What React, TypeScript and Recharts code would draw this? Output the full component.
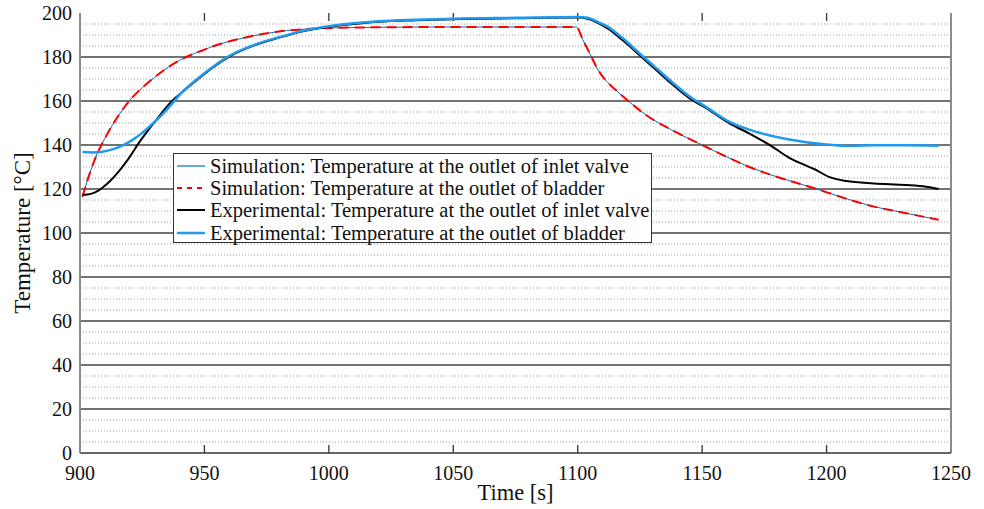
import React from 'react';
import { LineChart, Line, XAxis, YAxis, ReferenceLine, Legend } from 'recharts';

// ---- data ----
const simTime = [901, 903, 905, 907, 910, 913, 916, 920, 925, 930, 935, 940, 948, 956, 967, 980, 994, 1010, 1040, 1070, 1099.5, 1102, 1105, 1108, 1111, 1115, 1120, 1128, 1137, 1150, 1169, 1196, 1219, 1232, 1245];
const simInletTemp = [116.5, 124, 130.5, 136.3, 143, 149, 154.3, 160.3, 166, 170.8, 175, 178.5, 182.5, 185.8, 189, 191.6, 192.9, 193.4, 193.6, 193.6, 193.6, 188, 181.3, 174.5, 169.7, 165.3, 160.3, 153.2, 147.3, 140, 130, 120, 112, 109, 106];
const simBladderTemp = [116.5, 124, 130.5, 136.3, 143, 149, 154.3, 160.3, 166, 170.8, 175, 178.5, 182.5, 185.8, 189, 191.6, 192.9, 193.4, 193.6, 193.6, 193.6, 188, 181.3, 174.5, 169.7, 165.3, 160.3, 153.2, 147.3, 140, 130, 120, 112, 109, 106];

const expInletTime = [901, 903, 905, 907, 909, 912, 915, 919, 924, 930, 937, 941, 948, 954, 960, 970, 980, 990, 1000, 1010, 1020, 1035, 1050, 1075, 1100, 1104, 1108, 1112, 1118, 1125, 1132, 1138, 1145, 1152, 1161, 1169, 1178, 1185, 1190, 1195, 1201, 1208, 1219, 1232, 1240, 1245];
const expInletTemp = [117.4, 117.5, 118, 119, 120.6, 123.5, 127.2, 133, 141.5, 150.5, 160, 164, 170.5, 175.7, 180.2, 185.3, 188.8, 191.8, 193.8, 195, 196, 196.7, 197.2, 197.6, 197.9, 197.4, 195.5, 193, 187.7, 180.7, 173.6, 167.6, 161.2, 156.5, 149.8, 145.2, 139.4, 134.2, 131.5, 129.1, 125.5, 123.6, 122.5, 121.8, 121, 120];

const expBladderTime = [901, 905, 909, 913, 917, 921, 925, 929, 933, 937, 941, 948, 954, 960, 970, 980, 990, 1000, 1010, 1020, 1035, 1050, 1075, 1100, 1104, 1108, 1112, 1118, 1125, 1132, 1138, 1145, 1152, 1161, 1172, 1185, 1199, 1208, 1219, 1232, 1245];
const expBladderTemp = [136.8, 136.6, 136.9, 138, 139.7, 142.2, 145.5, 149.5, 153.8, 158.8, 164, 170.8, 176, 180.5, 185.5, 189, 192, 194, 195.3, 196.2, 196.9, 197.4, 197.8, 198.2, 197.8, 196, 193.8, 188.6, 181.5, 174.5, 168.5, 162, 157, 150.5, 145.9, 142.5, 140.3, 139.6, 139.9, 139.9, 139.7];

const xTicks = [900, 950, 1000, 1050, 1100, 1150, 1200, 1250];
const yTicks = [0, 20, 40, 60, 80, 100, 120, 140, 160, 180, 200];
const yMajorGrid = [20, 40, 60, 80, 100, 120, 140, 160, 180];
const yMinorGrid = [5, 10, 15, 25, 30, 35, 45, 50, 55, 65, 70, 75, 85, 90, 95, 105, 110, 115, 125, 130, 135, 145, 150, 155, 165, 170, 175, 185, 190, 195];

const legendLabels = [
  'Simulation: Temperature at the outlet of inlet valve',
  'Simulation: Temperature at the outlet of bladder',
  'Experimental: Temperature at the outlet of inlet valve',
  'Experimental: Temperature at the outlet of bladder',
];

const toRows = (t: number[], v: number[]) => t.map((x, i) => ({ t: x, v: v[i] }));
const simInletData = toRows(simTime, simInletTemp);
const simBladderData = toRows(simTime, simBladderTemp);
const expInletData = toRows(expInletTime, expInletTemp);
const expBladderData = toRows(expBladderTime, expBladderTemp);

const FONT = '"Liberation Serif", "Times New Roman", serif';
const TICK_LEN = 3.6; // in data units of the y scale (~8px)

const legendStyles = [
  { stroke: '#0072BD', width: 1.2, dash: undefined as string | undefined },
  { stroke: '#FF0000', width: 2, dash: '5 5' },
  { stroke: '#000000', width: 2, dash: undefined },
  { stroke: '#1E9BF0', width: 2.5, dash: undefined },
];

const renderLegend = () => (
  <div
    style={{
      width: 477,
      height: 88,
      border: '1px solid #333',
      background: '#fff',
      fontFamily: FONT,
      fontSize: 20.5,
      color: '#111',
      boxSizing: 'content-box',
    }}
  >
    {legendLabels.map((lab, i) => (
      <div key={i} style={{ display: 'flex', alignItems: 'center', height: 22.2, marginTop: i === 0 ? 1 : 0 }}>
        <svg width={36} height={22} style={{ flex: 'none' }}>
          <line x1={3} x2={31} y1={11} y2={11} stroke={legendStyles[i].stroke} strokeWidth={legendStyles[i].width} strokeDasharray={legendStyles[i].dash} />
        </svg>
        <span style={{ whiteSpace: 'nowrap', lineHeight: '22px' }}>{lab}</span>
      </div>
    ))}
  </div>
);

export default function App() {
  return (
    <div style={{ position: 'absolute', left: 0, top: 0, width: 984, height: 509, background: '#fff' }}>
      <LineChart width={984} height={509} margin={{ top: 13, right: 33, bottom: 0, left: 0 }}>
        {yMinorGrid.map((v) => (
          <ReferenceLine key={'m' + v} y={v} stroke="#9a9a9a" strokeWidth={1} strokeDasharray="1 2" />
        ))}
        {yMajorGrid.map((v) => (
          <ReferenceLine key={'M' + v} y={v} stroke="#444" strokeWidth={1.3} />
        ))}
        {xTicks.slice(1, -1).map((v) => (
          <ReferenceLine key={'tb' + v} segment={[{ x: v, y: 0 }, { x: v, y: TICK_LEN }]} stroke="#333" strokeWidth={1.3} />
        ))}
        {xTicks.slice(1, -1).map((v) => (
          <ReferenceLine key={'tt' + v} segment={[{ x: v, y: 200 }, { x: v, y: 200 - TICK_LEN }]} stroke="#333" strokeWidth={1.3} />
        ))}
        <ReferenceLine x={1250} stroke="#8c8c8c" strokeWidth={2} />
        <XAxis
          xAxisId={0}
          dataKey="t"
          type="number"
          domain={[900, 1250]}
          ticks={xTicks}
          allowDataOverflow
          height={56}
          tickLine={false}
          tickSize={0}
          tickMargin={13}
          stroke="#333"
          strokeWidth={1.5}
          tick={{ fill: '#111', fontSize: 20, fontFamily: FONT }}
          label={{ value: 'Time [s]', position: 'insideBottom', offset: 9, style: { fontSize: 22.5, fontFamily: FONT, fill: '#111' } }}
        />
        <XAxis
          xAxisId="top"
          orientation="top"
          dataKey="t"
          type="number"
          domain={[900, 1250]}
          ticks={xTicks}
          allowDataOverflow
          height={0}
          tickLine={false}
          tick={false}
          stroke="#333"
          strokeWidth={1.5}
        />
        <YAxis
          type="number"
          domain={[0, 200]}
          ticks={yTicks}
          width={80}
          tickLine={false}
          tickSize={0}
          tickMargin={8}
          stroke="#8c8c8c"
          strokeWidth={2}
          tick={{ fill: '#111', fontSize: 20, fontFamily: FONT }}
          label={{ value: 'Temperature [°C]', angle: -90, position: 'insideLeft', offset: 22, style: { fontSize: 23, fontFamily: FONT, fill: '#111', textAnchor: 'middle' } }}
        />
        <Line data={simInletData} dataKey="v" type="monotone" stroke="#0072BD" strokeWidth={1} dot={false} isAnimationActive={false} />
        <Line data={simBladderData} dataKey="v" type="monotone" stroke="#FF0000" strokeWidth={2} strokeDasharray="10 6" dot={false} isAnimationActive={false} />
        <Line data={expInletData} dataKey="v" type="monotone" stroke="#000000" strokeWidth={2} dot={false} isAnimationActive={false} />
        <Line data={expBladderData} dataKey="v" type="monotone" stroke="#1E9BF0" strokeWidth={2.5} dot={false} isAnimationActive={false} />
        <Legend
          layout="vertical"
          align="center"
          verticalAlign="middle"
          content={renderLegend}
          wrapperStyle={{ left: 173, top: 153, width: 479, height: 90 }}
        />
      </LineChart>
    </div>
  );
}
